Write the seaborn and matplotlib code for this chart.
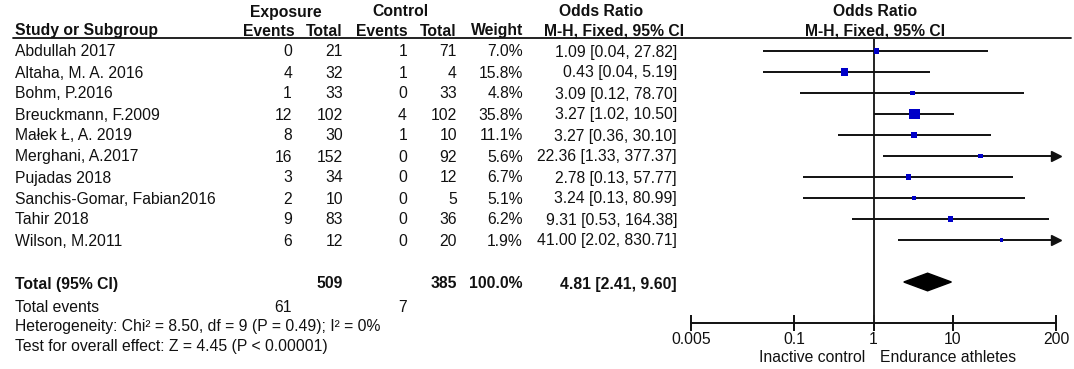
import numpy as np
import matplotlib.pyplot as plt
import seaborn as sns

# --- datos del forest plot ---
studies = ['Abdullah 2017', 'Altaha, M. A. 2016', 'Bohm, P.2016', 'Breuckmann, F.2009',
           'Małek Ł, A. 2019', 'Merghani, A.2017', 'Pujadas 2018',
           'Sanchis-Gomar, Fabian2016', 'Tahir 2018', 'Wilson, M.2011']
exp_events = [0, 4, 1, 12, 8, 16, 3, 2, 9, 6]
exp_total = [21, 32, 33, 102, 30, 152, 34, 10, 83, 12]
ctl_events = [1, 1, 0, 4, 1, 0, 0, 0, 0, 0]
ctl_total = [71, 4, 33, 102, 10, 92, 12, 5, 36, 20]
weights = [7.0, 15.8, 4.8, 35.8, 11.1, 5.6, 6.7, 5.1, 6.2, 1.9]
odds = [1.09, 0.43, 3.09, 3.27, 3.27, 22.36, 2.78, 3.24, 9.31, 41.00]
ci_low = [0.04, 0.04, 0.12, 1.02, 0.36, 1.33, 0.13, 0.13, 0.53, 2.02]
ci_high = [27.82, 5.19, 78.70, 10.50, 30.10, 377.37, 57.77, 80.99, 164.38, 830.71]

total_exp, total_ctl = 509, 385
total_events_exp, total_events_ctl = 61, 7
total_or, total_low, total_high = 4.81, 2.41, 9.60

x_ticks = [0.005, 0.1, 1, 10, 200]
x_tick_labels = ['0.005', '0.1', '1', '10', '200']

sns.set_style('white')
plt.rcParams['font.family'] = ['Liberation Sans', 'DejaVu Sans']
FS = 11.3
TXT = '#111111'
BLUE = '#0000c8'

fig = plt.figure(figsize=(10.74, 3.69), dpi=100)

# capa de fondo en pixeles para la tabla
bg = fig.add_axes([0, 0, 1, 1])
bg.set_xlim(0, 1074)
bg.set_ylim(369, 0)
bg.axis('off')

ROW0, STEP = 51, 21
TOTAL_ROW = 11


def row_y(i):
    return ROW0 + STEP * i


# encabezados
hdr = dict(fontsize=FS, fontweight='bold', color=TXT, va='center')
bg.text(286, 12, 'Exposure', ha='center', **hdr)
bg.text(400, 12, 'Control', ha='center', **hdr)
bg.text(601, 12, 'Odds Ratio', ha='center', **hdr)
bg.text(875, 12, 'Odds Ratio', ha='center', **hdr)
bg.text(15, 31, 'Study or Subgroup', ha='left', **hdr)
bg.text(295, 31, 'Events', ha='right', **hdr)
bg.text(343, 31, 'Total', ha='right', **hdr)
bg.text(408, 31, 'Events', ha='right', **hdr)
bg.text(457, 31, 'Total', ha='right', **hdr)
bg.text(523, 31, 'Weight', ha='right', **hdr)
bg.text(614, 31, 'M-H, Fixed, 95% CI', ha='center', **hdr)
bg.text(875, 31, 'M-H, Fixed, 95% CI', ha='center', **hdr)
bg.plot([13, 1071], [38, 38], color=TXT, lw=1.3)

# filas de estudios
cell = dict(fontsize=FS, color=TXT, va='center')
for i, name in enumerate(studies):
    y = row_y(i) + 1
    bg.text(15, y, name, ha='left', **cell)
    bg.text(292, y, f'{exp_events[i]}', ha='right', **cell)
    bg.text(343, y, f'{exp_total[i]}', ha='right', **cell)
    bg.text(407, y, f'{ctl_events[i]}', ha='right', **cell)
    bg.text(457, y, f'{ctl_total[i]}', ha='right', **cell)
    bg.text(523, y, f'{weights[i]:.1f}%', ha='right', **cell)
    bg.text(677, y, f'{odds[i]:.2f} [{ci_low[i]:.2f}, {ci_high[i]:.2f}]', ha='right', **cell)

# totales
yt = row_y(TOTAL_ROW) + 2
bold = dict(fontsize=FS, fontweight='bold', color=TXT, va='center')
bg.text(15, yt, 'Total (95% CI)', ha='left', **bold)
bg.text(343, yt, f'{total_exp}', ha='right', **bold)
bg.text(457, yt, f'{total_ctl}', ha='right', **bold)
bg.text(523, yt, '100.0%', ha='right', **bold)
bg.text(677, yt, f'{total_or:.2f} [{total_low:.2f}, {total_high:.2f}]', ha='right', **bold)

bg.text(15, 307, 'Total events', ha='left', **cell)
bg.text(292, 307, f'{total_events_exp}', ha='right', **cell)
bg.text(407, 307, f'{total_events_ctl}', ha='right', **cell)
bg.text(15, 327, 'Heterogeneity: Chi² = 8.50, df = 9 (P = 0.49); I² = 0%', ha='left', **cell)
bg.text(15, 346, 'Test for overall effect: Z = 4.45 (P < 0.00001)', ha='left', **cell)

bg.text(865, 358, 'Inactive control', ha='right', **cell)
bg.text(880, 358, 'Endurance athletes', ha='left', **cell)

# --- panel del forest plot ---
left, right, top, bottom = 691, 1056, 38, 323
ax = fig.add_axes([left / 1074, (369 - bottom) / 369, (right - left) / 1074, (bottom - top) / 369])
ax.set_facecolor('none')
ax.set_xscale('log')
ax.set_xlim(0.005, 200)
ax.set_ylim((bottom - ROW0) / STEP, (top - ROW0) / STEP)

rows = np.arange(len(studies))
xmin, xmax = ax.get_xlim()
for i in rows:
    hi = min(ci_high[i], xmax)
    ax.plot([ci_low[i], hi], [i, i], color='#111111', lw=1.4, solid_capstyle='butt')
    if ci_high[i] > xmax:
        ax.plot([xmax], [i], marker='>', ms=7, color='#111111', clip_on=False)

sns.scatterplot(x=odds, y=rows, marker='s', s=[1.45 * w + 4 for w in weights],
                color=BLUE, edgecolor=BLUE, linewidth=0, ax=ax, zorder=3)

# diamante del total
ax.fill([total_low, total_or, total_high, total_or],
        [TOTAL_ROW, TOTAL_ROW - 0.42, TOTAL_ROW, TOTAL_ROW + 0.42],
        color='black', zorder=3)

ax.axvline(1, color='#222222', lw=1.4, zorder=1)

for s in ['left', 'right', 'top']:
    ax.spines[s].set_visible(False)
ax.spines['bottom'].set_color('#111111')
ax.spines['bottom'].set_linewidth(1.4)
ax.set_yticks([])
ax.set_xticks(x_ticks)
ax.set_xticklabels(x_tick_labels)
ax.minorticks_off()
ax.tick_params(axis='x', direction='inout', length=11, width=1.4, color='#111111',
               labelsize=FS, labelcolor=TXT, pad=1, bottom=True)
ax.grid(False)

fig.savefig('out.png', dpi=100)
